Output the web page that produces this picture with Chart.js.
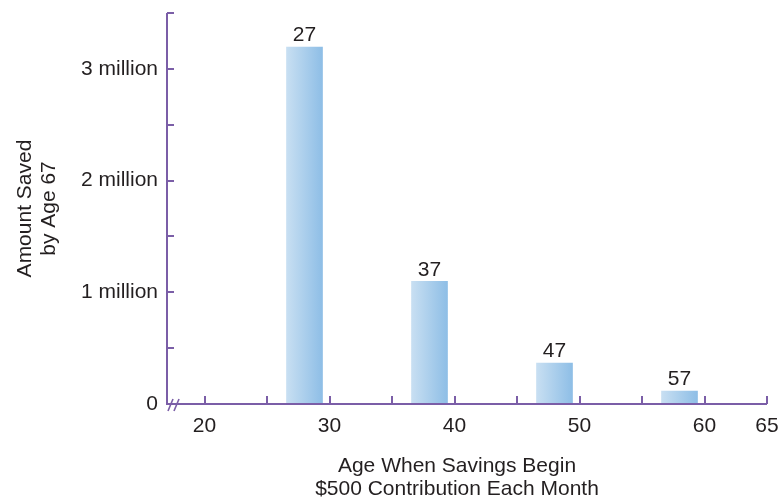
<!DOCTYPE html>
<html>
<head>
<meta charset="utf-8">
<script src="https://cdn.jsdelivr.net/npm/chart.js@4"></script>
<style>
  html, body { margin: 0; padding: 0; background: #fff; }
  #box { width: 778px; height: 498px; }
</style>
</head>
<body>
<div id="box"><canvas id="chartSavings"></canvas></div>
<script>
const startAges = [27, 37, 47, 57];
const barCenters = [28, 38, 48, 58];
const amountSaved = [3196000, 1098000, 366000, 116000];
const xLabelTicks = [20, 30, 40, 50, 60, 65];
const yLabelTicks = [0, 1000000, 2000000, 3000000];
const xTitulo = ['Age When Savings Begin', '$500 Contribution Each Month'];

const axisColor = '#7b5ea7';
const textColor = '#231f20';
const fontFamily = 'Liberation Sans, Arial, Helvetica, sans-serif';

const pontos = [];
for (let i = 0; i < startAges.length; i++) {
  pontos.push({ x: barCenters[i], y: amountSaved[i] });
}

function corBarra(c) {
  if (c.type !== 'data' || !c.chart.scales.x) return '#a9cdeb';
  const px = c.chart.scales.x.getPixelForValue(c.raw.x);
  if (!isFinite(px)) return '#a9cdeb';
  const grad = c.chart.ctx.createLinearGradient(px - 18, 0, px + 18, 0);
  grad.addColorStop(0, '#c8dff2');
  grad.addColorStop(1, '#8ebee6');
  return grad;
}

// inward ticks, axis break mark, value labels and x title
const enfeites = {
  id: 'enfeites',
  afterDatasetsDraw(chart) {
    const ctx = chart.ctx;
    const x = chart.scales.x;
    const y = chart.scales.y;
    const area = chart.chartArea;
    ctx.save();
    ctx.strokeStyle = axisColor;
    ctx.lineWidth = 2;
    ctx.beginPath();
    ctx.moveTo(area.left, area.top);
    ctx.lineTo(area.left, area.bottom);
    ctx.lineTo(area.right, area.bottom);
    ctx.stroke();
    y.ticks.forEach(function (t) {
      const py = Math.round(y.getPixelForValue(t.value));
      ctx.beginPath();
      ctx.moveTo(area.left, py);
      ctx.lineTo(area.left + 7, py);
      ctx.stroke();
    });
    x.ticks.forEach(function (t) {
      const px = Math.round(x.getPixelForValue(t.value));
      ctx.beginPath();
      ctx.moveTo(px, area.bottom);
      ctx.lineTo(px, area.bottom - 8);
      ctx.stroke();
    });
    // break mark
    ctx.lineWidth = 1.6;
    [1, 7].forEach(function (dx) {
      ctx.beginPath();
      ctx.moveTo(area.left + dx, area.bottom + 7);
      ctx.lineTo(area.left + dx + 5, area.bottom - 5);
      ctx.stroke();
    });
    // labels above bars
    ctx.fillStyle = textColor;
    ctx.font = '21px ' + fontFamily;
    ctx.textAlign = 'center';
    ctx.textBaseline = 'bottom';
    chart.getDatasetMeta(0).data.forEach(function (bar, i) {
      ctx.fillText(String(startAges[i]), bar.x, bar.y - 1);
    });
    // x axis title
    ctx.textBaseline = 'middle';
    const cx = (area.left + area.right) / 2 - 10;
    xTitulo.forEach(function (linha, i) {
      ctx.fillText(linha, cx, area.bottom + 62 + i * 23);
    });
    ctx.restore();
  }
};

const graficoPoupanca = new Chart(document.getElementById('chartSavings'), {
  type: 'bar',
  data: {
    datasets: [{
      data: pontos,
      backgroundColor: corBarra,
      barThickness: 36,
      borderWidth: 0
    }]
  },
  options: {
    responsive: true,
    maintainAspectRatio: false,
    animation: false,
    layout: { padding: { top: 13, right: 11, left: 0, bottom: 0 } },
    plugins: { legend: { display: false }, tooltip: { enabled: false } },
    scales: {
      x: {
        type: 'linear',
        offset: false,
        min: 17,
        max: 65,
        afterBuildTicks: function (s) {
          const lista = [];
          for (let v = 20; v <= 65; v += 5) lista.push({ value: v });
          s.ticks = lista;
        },
        afterFit: function (s) {
          s.height = 94;
          s.paddingLeft = 0;
          s.paddingRight = 0;
        },
        grid: { display: false, drawTicks: false },
        border: { display: false },
        ticks: {
          autoSkip: false,
          maxRotation: 0,
          padding: 10,
          color: textColor,
          font: { size: 21, family: fontFamily },
          callback: function (v) { return xLabelTicks.includes(v) ? String(v) : ''; }
        },
        title: { display: false }
      },
      y: {
        min: 0,
        max: 3500000,
        afterFit: function (s) {
          s.width = 167;
          s.paddingTop = 0;
          s.paddingBottom = 0;
        },
        grid: { display: false, drawTicks: false },
        border: { display: false },
        ticks: {
          stepSize: 500000,
          autoSkip: false,
          padding: 9,
          color: textColor,
          font: { size: 21, family: fontFamily },
          callback: function (v) {
            if (!yLabelTicks.includes(v)) return '';
            return v === 0 ? '0' : (v / 1000000) + ' million';
          }
        },
        title: {
          display: true,
          text: ['Amount Saved', 'by Age 67'],
          color: textColor,
          font: { size: 21, family: fontFamily, lineHeight: 1.15 },
          padding: { top: 13, bottom: 6 }
        }
      }
    }
  },
  plugins: [enfeites]
});
</script>
</body>
</html>
